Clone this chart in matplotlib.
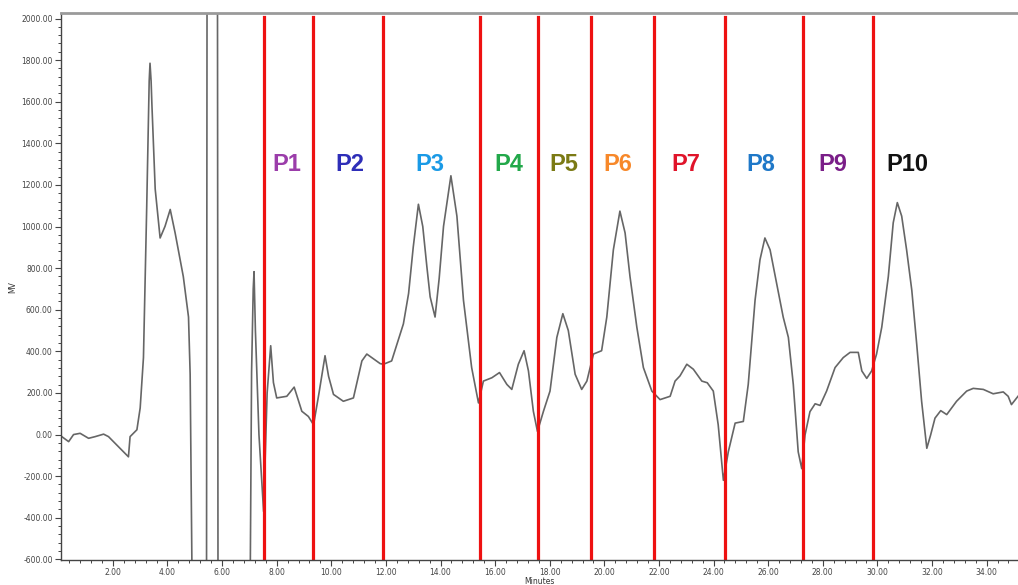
import matplotlib
matplotlib.use("Agg")
import matplotlib.pyplot as plt
from matplotlib.ticker import MultipleLocator, FormatStrFormatter

# ---- data ----
time_min = [0.13, 0.38, 0.56, 0.80, 1.11, 1.35, 1.66, 1.84, 2.20, 2.57, 2.63, 2.88,
            3.00, 3.12, 3.24, 3.33, 3.36, 3.40, 3.43, 3.55, 3.73, 3.91, 4.10, 4.28,
            4.58, 4.77, 4.83, 4.90, 5.43, 5.45, 5.83, 5.85, 7.03, 7.08, 7.14, 7.17,
            7.22, 7.35, 7.52, 7.65, 7.78, 7.88, 8.00, 8.37, 8.64, 8.92, 9.16, 9.35,
            9.55, 9.77, 9.90, 10.08, 10.44, 10.81, 11.12, 11.30, 11.79, 11.91, 12.21,
            12.64, 12.83, 13.00, 13.19, 13.35, 13.50, 13.62, 13.80, 13.95, 14.11,
            14.38, 14.60, 14.84, 15.14, 15.39, 15.57, 15.88, 16.16, 16.43, 16.61,
            16.85, 17.06, 17.22, 17.40, 17.55, 17.77, 18.01, 18.26, 18.48, 18.68,
            18.93, 19.17, 19.36, 19.60, 19.90, 20.09, 20.33, 20.57, 20.76, 20.94,
            21.19, 21.43, 21.74, 22.04, 22.41, 22.59, 22.77, 23.02, 23.26, 23.57,
            23.77, 23.99, 24.17, 24.36, 24.54, 24.79, 25.09, 25.27, 25.52, 25.70,
            25.88, 26.07, 26.31, 26.55, 26.74, 26.92, 27.10, 27.23, 27.35, 27.53,
            27.72, 27.90, 28.14, 28.45, 28.75, 29.00, 29.30, 29.43, 29.61, 29.79,
            29.97, 30.16, 30.40, 30.58, 30.73, 30.89, 31.07, 31.26, 31.44, 31.62,
            31.81, 31.95, 32.11, 32.32, 32.54, 32.90, 33.27, 33.51, 33.88, 34.24,
            34.61, 34.79, 34.91, 35.15]
signal_mv = [-10, -34, 0, 6, -18, -10, 2, -10, -58, -107, -10, 23,
             128, 370, 1099, 1700, 1785, 1700, 1584, 1180, 945, 1001, 1082, 969,
             759, 565, 291, -700, -700, 2300, 2300, -700, -700, 300, 700, 783,
             500, 0, -370, 200, 427, 250, 176, 184, 228, 112, 87, 47,
             200, 379, 280, 193, 160, 176, 354, 387, 341, 338, 354,
             532, 678, 900, 1107, 1000, 807, 662, 565, 750, 1001,
             1244, 1050, 646, 322, 152, 257, 273, 298, 241, 217,
             338, 403, 306, 112, 15, 112, 209, 467, 581, 500,
             290, 217, 257, 387, 403, 565, 888, 1074, 969, 759,
             516, 322, 209, 168, 184, 257, 282, 338, 314, 257,
             249, 209, 47, -220, -83, 55, 63, 241, 646, 840,
             945, 888, 727, 565, 467, 241, -83, -164, -2, 110,
             148, 140, 209, 322, 370, 395, 395, 306, 270, 306,
             387, 516, 759, 1018, 1115, 1050, 888, 694, 435, 160,
             -66, -2, 79, 115, 96, 160, 209, 222, 217, 196,
             205, 184, 144, 184]

fraction_cuts = [7.55, 9.33, 11.91, 15.45, 17.57, 19.50, 21.82, 24.43, 27.26, 29.83]
fraction_labels = ["P1", "P2", "P3", "P4", "P5", "P6", "P7", "P8", "P9", "P10"]
label_x = [8.37, 10.67, 13.62, 16.51, 18.50, 20.50, 22.98, 25.72, 28.36, 31.10]
label_colors = ["#9B3DAA", "#2E2EB8", "#1A9AE6", "#22A84A", "#7B7A14",
                "#F7882A", "#E0142A", "#1F78C8", "#7A1E88", "#111111"]
label_y = 1300

fig = plt.figure(figsize=(10.18, 5.85), dpi=100)
ax = fig.add_axes([61 / 1018, 25 / 585, 957 / 1018, 546.7 / 585])

ax.plot(time_min, signal_mv, color="#666666", lw=1.2, solid_joinstyle="round")

for xc in fraction_cuts:
    ax.axvline(xc, ymin=0, ymax=0.994, color="#EE1111", lw=2.3)

for lab, xl, col in zip(fraction_labels, label_x, label_colors):
    ax.text(xl, label_y, lab, color=col, fontsize=17, fontweight="bold",
            family="Liberation Sans", ha="center", va="center")

ax.set_xlim(0.1, 35.15)
ax.set_ylim(-603, 2025)

ax.set_xticks(list(range(2, 36, 2)))
ax.xaxis.set_minor_locator(MultipleLocator(0.4))
ax.yaxis.set_major_locator(MultipleLocator(200))
ax.yaxis.set_minor_locator(MultipleLocator(40))
ax.xaxis.set_major_formatter(FormatStrFormatter("%.2f"))
ax.yaxis.set_major_formatter(FormatStrFormatter("%.2f"))

ax.tick_params(axis="both", which="major", labelsize=5.5, length=4, width=0.8,
               colors="#444444", direction="out", pad=2)
ax.tick_params(axis="both", which="minor", length=2.5, width=0.7,
               colors="#444444", direction="out")

for sp in ["left", "bottom"]:
    ax.spines[sp].set_color("#444444")
    ax.spines[sp].set_linewidth(1.0)
ax.spines["top"].set_color("#9a9a9a")
ax.spines["top"].set_linewidth(2.0)
ax.spines["right"].set_visible(False)

ax.set_xlabel("Minutes", fontsize=5.5, color="#333333", labelpad=0)
ax.set_ylabel("MV", fontsize=5.5, color="#333333", labelpad=3)

fig.savefig("out.png", dpi=100)
